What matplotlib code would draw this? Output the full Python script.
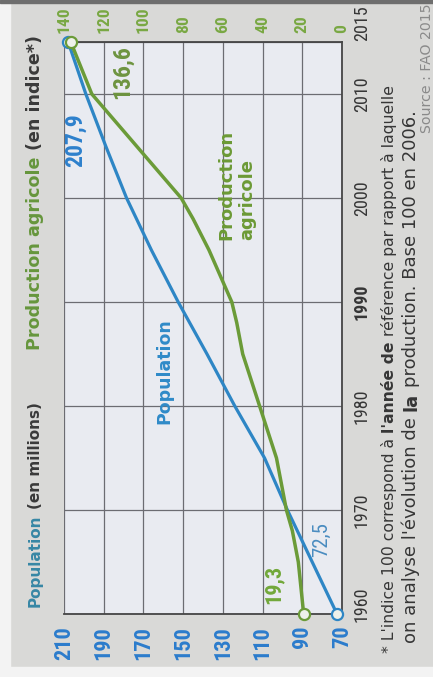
import matplotlib
matplotlib.use("Agg")
import matplotlib.pyplot as plt
from matplotlib import font_manager
from matplotlib.patches import Rectangle
from matplotlib.transforms import blended_transform_factory, offset_copy

pop_years = [1960, 1965, 1970, 1975, 1980, 1985, 1990, 1995, 2000, 2005, 2010, 2015]
population = [72.5, 85, 97.5, 109, 124, 138, 152.5, 166, 178.5, 189, 199, 207.9]

prod_years = [1960, 1965, 1968, 1970, 1975, 1980, 1985, 1988, 1990, 1995, 1998,
              2000, 2005, 2010, 2015]
production = [19.3, 22, 25, 28, 33, 41.5, 50, 53, 55.5, 67, 75, 81, 103.5, 126, 136.6]

pop_ticks = [210, 190, 170, 150, 130, 110, 90, 70]
prod_ticks = [140, 120, 100, 80, 60, 40, 20, 0]
year_ticks = [1960, 1970, 1980, 1990, 2000, 2010, 2015]

W, H = 433, 677
BLUE = "#2e86c5"
GREEN = "#6b9b38"
DARK = "#363636"

names = {f.name for f in font_manager.fontManager.ttflist}
NUM = next(n for n in ["Liberation Sans Narrow", "DejaVu Sans Condensed",
                       "Roboto Condensed", "Liberation Sans", "DejaVu Sans"]
           if n in names)
TXT = "DejaVu Sans"

fig = plt.figure(figsize=(W / 100, H / 100), dpi=100)
fig.patch.set_facecolor("#d9d9d7")
# white margins of the scan + dark strip on top
fig.patches.append(Rectangle((0, 0), 10 / W, 1, transform=fig.transFigure,
                             color="#f3f3f3", zorder=0))
fig.patches.append(Rectangle((0, 0), 1, 10 / H, transform=fig.transFigure,
                             color="#f3f3f3", zorder=0))
fig.patches.append(Rectangle((0, 1 - 3 / H), 1, 3 / H, transform=fig.transFigure,
                             color="#6e6e6e", zorder=0))

ax = fig.add_axes([64 / W, 63 / H, 278 / W, 572 / H])
ax.set_facecolor("#e9ebf1")
ax.set_xlim(210, 70)
ax.set_ylim(1960, 2015)
ax.set_xticks(pop_ticks)
ax.set_xticklabels([str(v) for v in pop_ticks], rotation=90, color="#2b7ccc",
                   fontsize=16, fontweight="bold", family=NUM)
ax.set_yticks(year_ticks)
ax.set_yticklabels([])
ax.tick_params(length=0)
ax.tick_params(axis="x", pad=8.5)
ax.grid(True, color="#6c6c72", lw=0.9)
ax.spines["left"].set_visible(False)
for s in ("top", "right", "bottom"):
    ax.spines[s].set_color("#454545")
    ax.spines[s].set_linewidth(1.3)

ax2 = ax.twiny()
ax2.set_xlim(140, 0)
ax2.set_xticks(prod_ticks)
ax2.set_xticklabels([str(v) for v in prod_ticks], rotation=90, color="#79a843",
                    fontsize=12.5, fontweight="bold", family=NUM)
ax2.tick_params(length=0, pad=6.5)
for s in ax2.spines.values():
    s.set_visible(False)

# lines
ax.plot(population, pop_years, color=BLUE, lw=2.3, solid_capstyle="round", zorder=3)
ax2.plot(production, prod_years, color=GREEN, lw=2.5, solid_capstyle="round", zorder=3)
mk = dict(marker="o", ms=8, mew=1.6, mfc="#eef1ea", clip_on=False, zorder=6, ls="none")
ax.plot([population[0], population[-1]], [pop_years[0], pop_years[-1]], mec=BLUE, **mk)
ax2.plot([production[0], production[-1]], [prod_years[0], prod_years[-1]], mec=GREEN, **mk)

# value labels
def note(a, text, xy, off, color, size, weight="bold"):
    a.annotate(text, xy=xy, xytext=off, textcoords="offset pixels", rotation=90,
               ha="center", va="center", color=color, fontsize=size,
               fontweight=weight, family=NUM, annotation_clip=False, zorder=7)

note(ax, "207,9", (population[-1], pop_years[-1]), (7, -98), "#2d80cc", 17)
note(ax, "72,5", (population[0], pop_years[0]), (-16, 74), "#4a8cc0", 15, "normal")
note(ax2, "136,6", (production[-1], prod_years[-1]), (52, -30), "#6e9440", 17)
note(ax2, "19,3", (production[0], prod_years[0]), (-30, 30), "#72a83a", 16)

ax.text(159.6, 1983.4, "Population", rotation=90, ha="center", va="center",
        color="#2f8ac8", fontsize=12.5, fontweight="bold", family=TXT)
ax2.text(52.9, 1996.0, "Production\nagricole", rotation=90, ha="center", va="bottom",
         multialignment="left", color="#6c9a35", fontsize=13, fontweight="bold",
         family=TXT, linespacing=1.2)

# year labels on the right of the frame
ytrans = blended_transform_factory(ax.transAxes, ax.transData)
for yr in year_ticks:
    dy, va = 0, "center"
    if yr == 1960:
        dy = 10
    if yr == 2015:
        dy, va = 1, "bottom"
    ax.text(1, yr, str(yr), transform=offset_copy(ytrans, fig=fig, x=11, y=dy, units="dots"),
            rotation=90, ha="left", va=va, color=DARK, fontsize=13,
            fontweight="bold" if yr == 1990 else "normal", family=NUM)

# ---- rotated multi-style text written from bottom to top --------------------
renderer = fig.canvas.get_renderer()


def text_len(s, **kw):
    t = fig.text(0, 0, s, **kw)
    w = t.get_window_extent(renderer).width
    t.remove()
    return w


def vtext(xb, ystart, parts, size, target=None, family=TXT):
    if target is not None:
        total = 0
        for s, weight, _ in parts:
            total += text_len(s.replace(" ", "\u00a0"), fontsize=size,
                              fontweight=weight, family=family)
        size = size * target / total
    y = ystart
    for s, weight, color in parts:
        kw = dict(fontsize=size, fontweight=weight, family=family)
        sp = text_len("x x", **kw) - text_len("xx", **kw)
        lead = len(s) - len(s.lstrip(" "))
        trail = len(s) - len(s.rstrip(" "))
        y -= lead * sp
        t = fig.text(xb / W, 1 - y / H, s.strip(" "), rotation=90,
                     rotation_mode="anchor", ha="left", va="baseline",
                     color=color, **kw)
        y -= t.get_window_extent(renderer).height
        y -= trail * sp


vtext(40, 607, [("Population", "bold", "#3787a5"),
                (" (en millions)", "bold", "#3a3a3a")], 10, target=205)
vtext(40, 350, [("Production agricole", "bold", "#66963c"),
                (" (en indice*)", "bold", "#3a3a3a")], 10, target=313)

vtext(394, 653, [("* L'indice 100 correspond à ", "normal", DARK),
                 ("l'année de", "bold", DARK),
                 (" référence par rapport à laquelle", "normal", DARK)], 10, target=566)
vtext(416, 643, [("on analyse l'évolution de ", "normal", DARK),
                 ("la", "bold", DARK),
                 (" production. Base 100 en 2006.", "normal", DARK)], 10, target=533)
vtext(431, 133, [("Source : FAO 2015", "normal", "#8a8a8a")], 9, target=130)

fig.savefig("out.png", dpi=100, facecolor=fig.get_facecolor())
